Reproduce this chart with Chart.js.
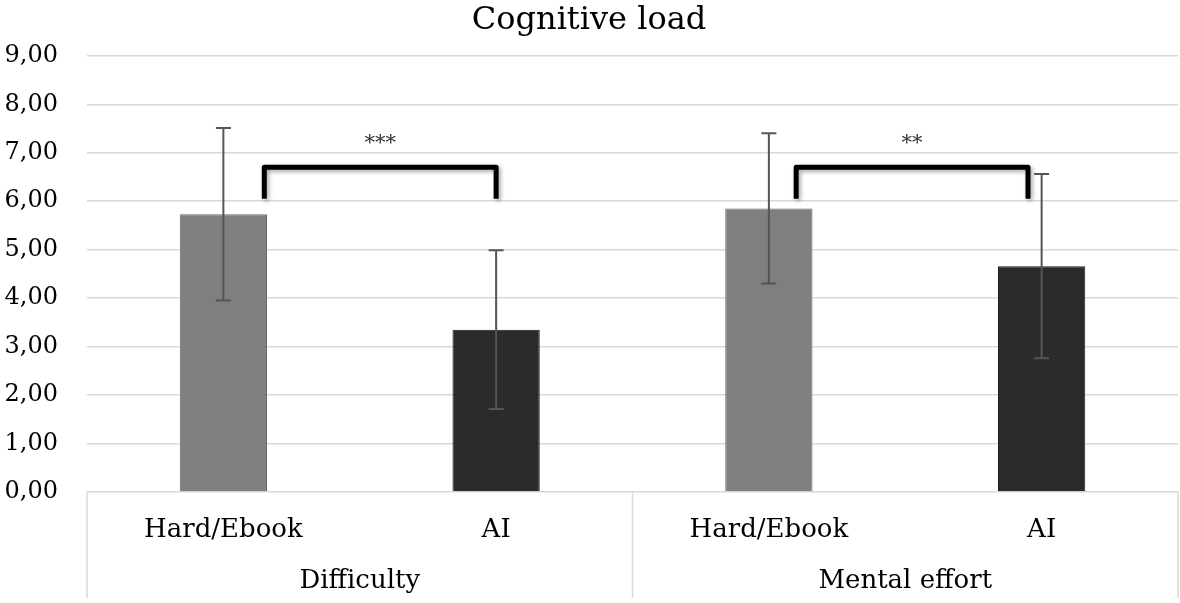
<!DOCTYPE html>
<html>
<head>
<meta charset="utf-8">
<script src="https://cdn.jsdelivr.net/npm/chart.js@4"></script>
<style>
  body { margin: 0; background: #fff; }
  #wrap { width: 1180px; height: 603px; }
</style>
</head>
<body>
<div id="wrap"><canvas id="cogChart"></canvas></div>
<script>
const categories = ['Hard/Ebook', 'AI', 'Hard/Ebook', 'AI'];
const groups = ['Difficulty', 'Mental effort'];
const means = [5.73, 3.35, 5.85, 4.66];
const sds = [1.78, 1.64, 1.55, 1.90];
const barColors = ['#7f7f7f', '#2b2b2b', '#7f7f7f', '#2b2b2b'];
const yTicks = [0, 1, 2, 3, 4, 5, 6, 7, 8, 9];
// significance brackets: from / to in category units, y in data units
const brackets = [
    { from: 0.15, to: 1.0, y: 6.7, end: 6.05, label: '***' },
    { from: 2.1, to: 2.95, y: 6.7, end: 6.05, label: '**' }
];

const FONT = "'DejaVu Serif', serif";

const errorBars = {
    id: 'errorBars',
    afterDatasetsDraw(chart) {
        const ctx = chart.ctx;
        const y = chart.scales.y;
        const meta = chart.getDatasetMeta(0);
        ctx.save();
        ctx.strokeStyle = '#555555';
        ctx.lineWidth = 2;
        meta.data.forEach((bar, i) => {
            const top = y.getPixelForValue(means[i] + sds[i]);
            const bot = y.getPixelForValue(means[i] - sds[i]);
            ctx.beginPath();
            ctx.moveTo(bar.x, top);
            ctx.lineTo(bar.x, bot);
            ctx.moveTo(bar.x - 7.5, top);
            ctx.lineTo(bar.x + 7.5, top);
            ctx.moveTo(bar.x - 7.5, bot);
            ctx.lineTo(bar.x + 7.5, bot);
            ctx.stroke();
        });
        ctx.restore();
    }
};

const sigBrackets = {
    id: 'sigBrackets',
    afterDatasetsDraw(chart) {
        const ctx = chart.ctx;
        const x = chart.scales.x;
        const y = chart.scales.y;
        brackets.forEach(b => {
            const x1 = x.getPixelForValue(b.from);
            const x2 = x.getPixelForValue(b.to);
            const yy = y.getPixelForValue(b.y);
            const ye = y.getPixelForValue(b.end);
            ctx.save();
            ctx.shadowColor = 'rgba(0,0,0,0.35)';
            ctx.shadowBlur = 4;
            ctx.shadowOffsetX = 2;
            ctx.shadowOffsetY = 2;
            ctx.strokeStyle = '#000';
            ctx.lineWidth = 5;
            ctx.lineJoin = 'round';
            ctx.beginPath();
            ctx.moveTo(x1, ye);
            ctx.lineTo(x1, yy);
            ctx.lineTo(x2, yy);
            ctx.lineTo(x2, ye);
            ctx.stroke();
            ctx.restore();

            ctx.save();
            ctx.fillStyle = '#333';
            ctx.font = '21px ' + FONT;
            ctx.textAlign = 'center';
            ctx.textBaseline = 'middle';
            ctx.fillText(b.label, (x1 + x2) / 2, yy - 24);
            ctx.restore();
        });
    }
};

const groupAxis = {
    id: 'groupAxis',
    afterDraw(chart) {
        const ctx = chart.ctx;
        const x = chart.scales.x;
        const area = chart.chartArea;
        ctx.save();
        ctx.strokeStyle = '#d9d9d9';
        ctx.lineWidth = 1.5;
        [-0.5, 1.5, 3.5].forEach(v => {
            const px = x.getPixelForValue(v);
            ctx.beginPath();
            ctx.moveTo(px, area.bottom);
            ctx.lineTo(px, chart.height - 5);
            ctx.stroke();
        });
        ctx.fillStyle = '#000';
        ctx.font = '26px ' + FONT;
        ctx.textAlign = 'center';
        ctx.textBaseline = 'middle';
        groups.forEach((g, i) => {
            ctx.fillText(g, x.getPixelForValue(i * 2 + 0.5), area.bottom + 89);
        });
        ctx.restore();
    }
};

new Chart(document.getElementById('cogChart'), {
    type: 'bar',
    data: {
        labels: categories,
        datasets: [{
            data: means,
            backgroundColor: barColors,
            borderColor: ['#6a6a6a', '#1a1a1a', '#6a6a6a', '#1a1a1a'],
            borderWidth: 1,
            barPercentage: 0.32,
            categoryPercentage: 1.0
        }]
    },
    options: {
        responsive: true,
        maintainAspectRatio: false,
        animation: false,
        layout: { padding: { top: 0, right: 2, left: 0, bottom: 0 } },
        plugins: {
            legend: { display: false },
            tooltip: { enabled: false },
            title: {
                display: true,
                text: 'Cognitive load',
                color: '#000',
                font: { family: FONT, size: 32, weight: 'normal', lineHeight: 1.15 },
                padding: { top: 2, bottom: 17 }
            }
        },
        scales: {
            x: {
                grid: { display: false, drawTicks: false },
                border: { display: false },
                ticks: {
                    color: '#000',
                    font: { family: FONT, size: 26 },
                    padding: 23,
                    maxRotation: 0
                },
                afterFit(axis) { axis.height = 111; }
            },
            y: {
                min: 0,
                max: 9,
                afterBuildTicks(axis) { axis.ticks = yTicks.map(v => ({ value: v })); },
                grid: { color: '#d9d9d9', lineWidth: 1.5, drawTicks: false },
                border: { display: false },
                ticks: {
                    color: '#000',
                    font: { family: FONT, size: 24 },
                    padding: 29,
                    callback: v => v.toFixed(2).replace('.', ',')
                },
                afterFit(axis) { axis.width = 87; }
            }
        }
    },
    plugins: [errorBars, sigBrackets, groupAxis]
});
</script>
</body>
</html>
